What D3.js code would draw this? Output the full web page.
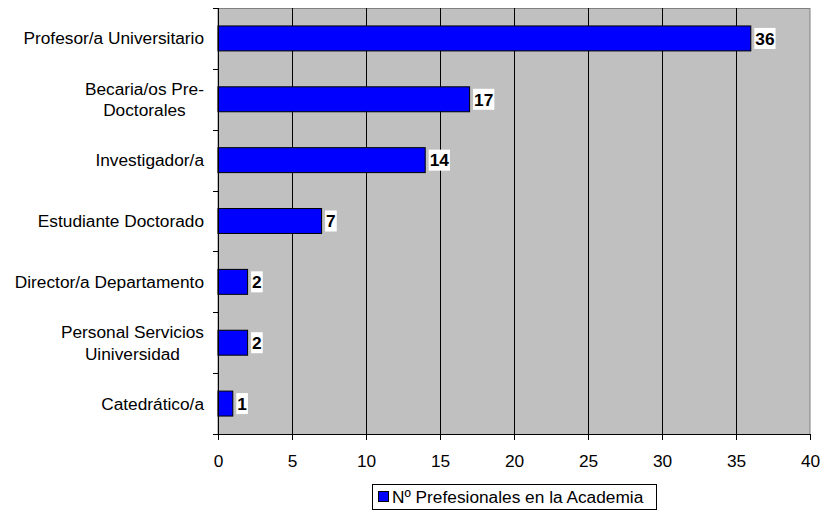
<!DOCTYPE html>
<html><head><meta charset="utf-8">
<script src="https://cdn.jsdelivr.net/npm/d3@7"></script>
<style>body{margin:0;background:#fff}svg{display:block;font-family:"Liberation Sans",Arial,sans-serif}</style>
</head><body>
<svg id="c" width="822" height="513"></svg>
<script>
const categories = [
  ["Profesor/a Universitario"],
  ["Becaria/os Pre-", "Doctorales"],
  ["Investigador/a"],
  ["Estudiante Doctorado"],
  ["Director/a Departamento"],
  ["Personal Servicios", "Uiniversidad"],
  ["Catedrático/a"]
];
const values = [36, 17, 14, 7, 2, 2, 1];
const xTicks = [0, 5, 10, 15, 20, 25, 30, 35, 40];
const seriesName = "Nº Prefesionales en la Academia";

const FS = 17.3;
const svg = d3.select("#c");
const L = 218, R = 810, T = 8, B = 434;
const x = d3.scaleLinear().domain([0, 40]).range([L, R]);
const y = d3.scaleBand().domain(d3.range(categories.length)).range([T, B]).paddingInner(0.59).paddingOuter(0.295);
const yb = d3.scaleBand().domain(d3.range(categories.length)).range([T, B]);

svg.append("rect").attr("x", L).attr("y", T + 0.5).attr("width", R - L).attr("height", B - T)
  .attr("fill", "#c0c0c0").attr("stroke", "#808080").attr("stroke-width", 1);

// gridlines
svg.append("g").selectAll("line").data(xTicks.filter(d => d > 0 && d < 40)).join("line")
  .attr("x1", d => Math.round(x(d)) + 0.5).attr("x2", d => Math.round(x(d)) + 0.5)
  .attr("y1", T).attr("y2", B).attr("stroke", "#000").attr("stroke-width", 1);

// bars
svg.append("g").selectAll("rect").data(values).join("rect")
  .attr("x", x(0)).attr("y", (d, i) => y(i))
  .attr("width", d => x(d) - x(0)).attr("height", y.bandwidth())
  .attr("fill", "#0000ff").attr("stroke", "#000").attr("stroke-width", 1);

// value labels
const vl = svg.append("g").selectAll("g").data(values).join("g")
  .attr("transform", (d, i) => `translate(${x(d) + 3.5},${y(i) + y.bandwidth() / 2})`);
vl.each(function(d) {
  const g = d3.select(this);
  const t = g.append("text").text(d).attr("x", 1).attr("dy", "0.36em")
    .attr("font-size", FS).attr("font-weight", "bold").attr("fill", "#000");
  const w = t.node().getComputedTextLength();
  g.insert("rect", "text").attr("x", 0).attr("y", -10.5).attr("width", w + 2).attr("height", 21).attr("fill", "#fff");
});

// x axis
const xAxis = d3.axisBottom(x).tickValues(xTicks).tickSize(6).tickSizeOuter(0);
const gx = svg.append("g").attr("transform", `translate(0,${B})`).call(xAxis);
gx.select(".domain").attr("stroke", "#000");
gx.selectAll(".tick line").attr("stroke", "#000");
gx.selectAll(".tick text").attr("font-size", FS).attr("font-family", "Liberation Sans, Arial, sans-serif").attr("fill", "#000").attr("y", 33).attr("dy", "0");

// y axis line and ticks (between categories)
svg.append("line").attr("x1", L + 0.5).attr("x2", L + 0.5).attr("y1", T).attr("y2", B).attr("stroke", "#000");
svg.append("g").selectAll("line").data(d3.range(categories.length + 1)).join("line")
  .attr("x1", L - 5).attr("x2", L)
  .attr("y1", i => Math.round(i < categories.length ? yb(i) : B) + 0.5)
  .attr("y2", i => Math.round(i < categories.length ? yb(i) : B) + 0.5)
  .attr("stroke", "#000");

// category labels
const lineH = 21.5;
const cl = svg.append("g").selectAll("text").data(categories).join("text")
  .attr("font-size", FS).attr("fill", "#000")
  .attr("y", (d, i) => yb(i) + yb.bandwidth() / 2);
cl.each(function(lines) {
  const t = d3.select(this);
  lines.forEach((s, k) => {
    t.append("tspan").text(s)
      .attr("dy", k === 0 ? ((-(lines.length - 1) / 2) * lineH / FS + 0.35) + "em" : (lineH / FS) + "em");
  });
  const tsp = t.selectAll("tspan").nodes();
  const widths = tsp.map(n => n.getComputedTextLength());
  const maxW = d3.max(widths);
  const right = 204;
  tsp.forEach(n => {
    d3.select(n).attr("x", right - maxW / 2).attr("text-anchor", "middle");
  });
});

// legend
const lg = svg.append("g");
lg.append("rect").attr("x", 372.5).attr("y", 484.5).attr("width", 284).attr("height", 25)
  .attr("fill", "#fff").attr("stroke", "#000");
lg.append("rect").attr("x", 378.5).attr("y", 491.5).attr("width", 10).attr("height", 10)
  .attr("fill", "#0000ff").attr("stroke", "#000");
lg.append("text").attr("x", 392).attr("y", 497).attr("dy", "0.36em").attr("font-size", FS).attr("fill", "#000").text(seriesName);
</script>
</body></html>
